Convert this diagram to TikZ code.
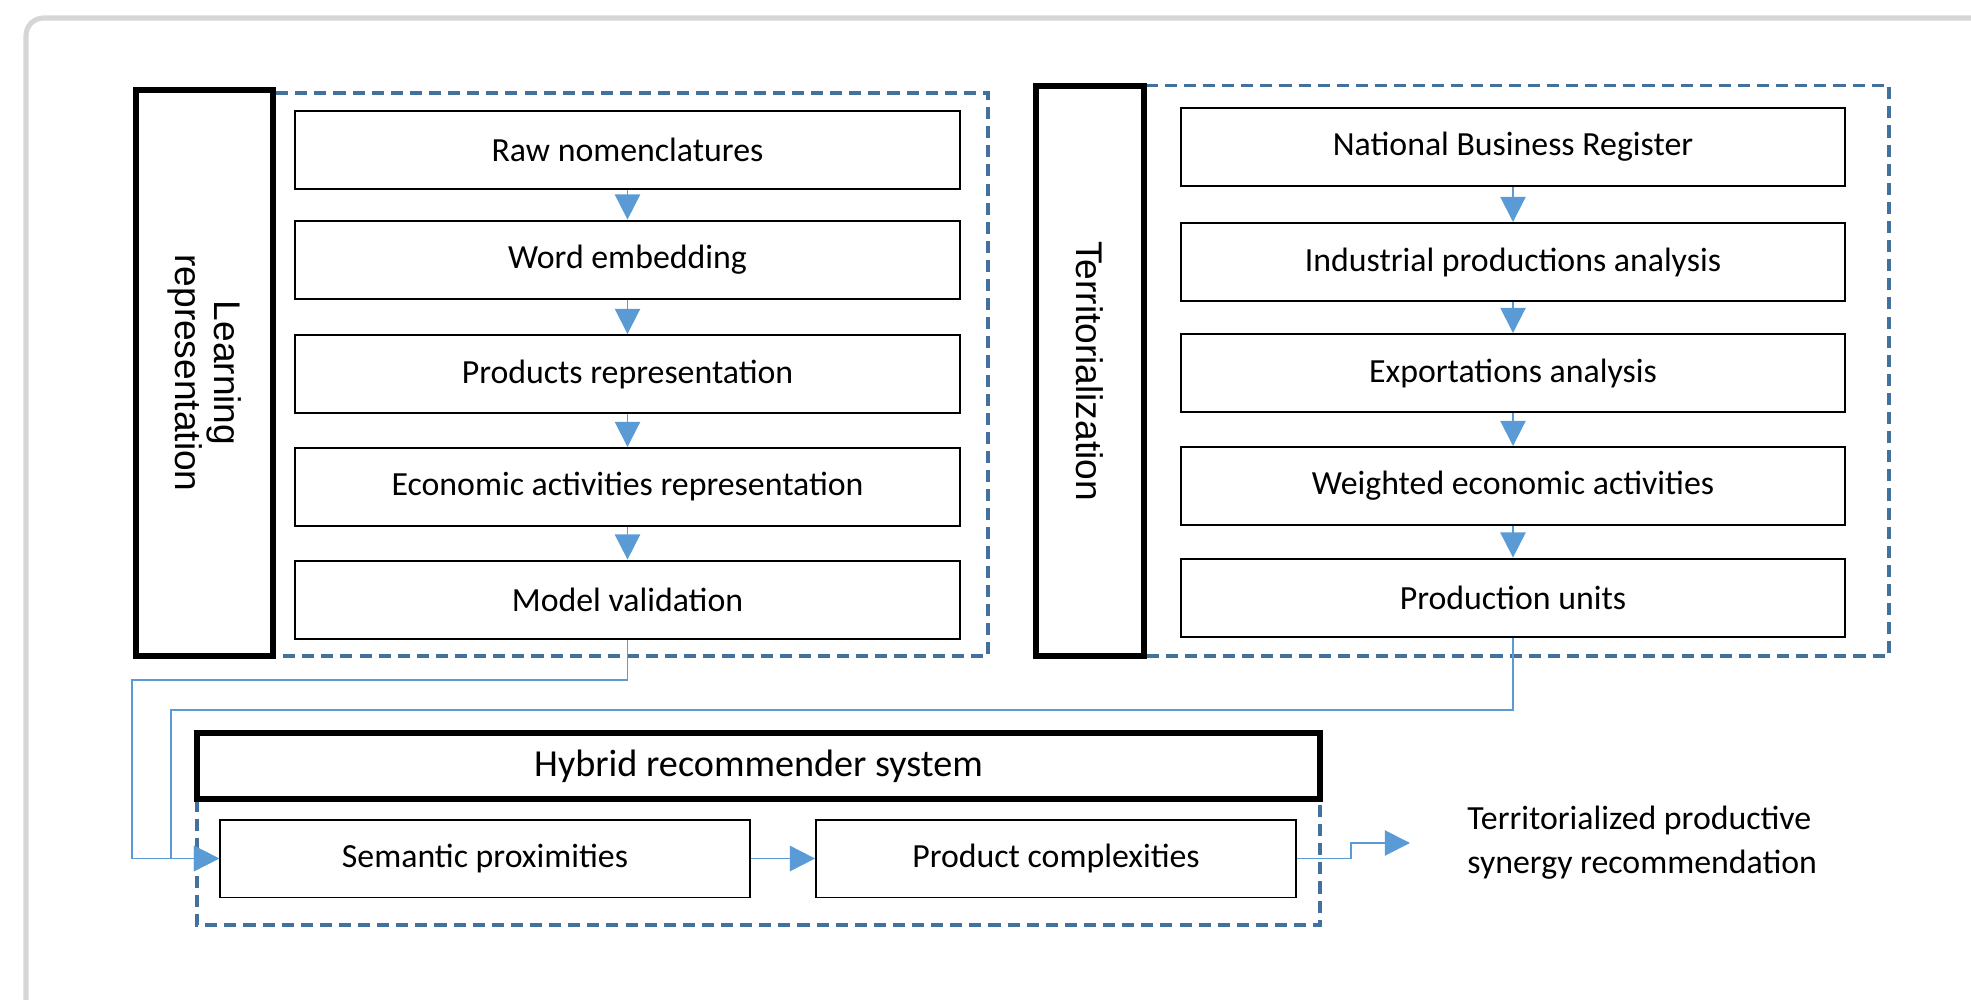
\documentclass[tikz,border=0pt]{standalone}
\usepackage{fontspec}
\setmainfont{Carlito}
\newfontfamily\sidefont{Liberation Sans}
\usepackage{tikz}
\usetikzlibrary{arrows.meta, calc, positioning}
\definecolor{dashblue}{HTML}{41719C}
\definecolor{flowblue}{HTML}{5B9BD5}
\definecolor{framegray}{HTML}{D6D6D6}

\begin{document}
\begin{tikzpicture}[x=0.016cm, y=-0.016cm,
    stepbox/.style={draw, line width=0.9pt, minimum height=1.248cm, inner sep=0pt, font=\fontsize{15.4}{19}\selectfont},
    sidebox/.style={draw, line width=2.6pt, inner sep=0pt, font=\sidefont\fontsize{16.9}{17.6}\selectfont},
    dashbox/.style={draw=dashblue, line width=1.8pt, dash pattern=on 5.5pt off 3.2pt},
    flow/.style={draw=flowblue, line width=0.9pt, -{Triangle[width=11.5pt,length=11.5pt]}}]
  \useasboundingbox (0,0) rectangle (1971,1000);
  \draw[framegray, line width=2.3pt, rounded corners=8pt] (26,1010) -- (26,18) -- (1990,18);

  % dashed frames
  \draw[dashbox] (273,93) rectangle (988,656);
  \draw[dashbox] (1144,85.5) rectangle (1889,656);
  \draw[dashbox] (197,799.5) rectangle (1320,925);

  % learning representation
  \node[sidebox, rotate=-90, align=center, minimum width=9.05cm, minimum height=2.19cm] (learn) at (204.5,373) {Learning\\representation};
  \node[stepbox, minimum width=10.64cm] (raw) at (627.5,149.6) {Raw nomenclatures};
  \node[stepbox, minimum width=10.64cm] (word) at (627.5,259.6) {Word embedding};
  \node[stepbox, minimum width=10.64cm] (prod) at (627.5,374) {Products representation};
  \node[stepbox, minimum width=10.64cm] (econ) at (627.5,487) {Economic activities representation};
  \node[stepbox, minimum width=10.64cm] (model) at (627.5,599.6) {Model validation};

  % territorialization
  \node[sidebox, rotate=-90, minimum width=9.13cm, minimum height=1.73cm] (terr) at (1090,371) {Territorialization};
  \node[stepbox, minimum width=10.62cm] (nbr) at (1513,147) {National Business Register};
  \node[stepbox, minimum width=10.62cm] (indus) at (1513,262) {Industrial productions analysis};
  \node[stepbox, minimum width=10.62cm] (export) at (1513,373) {Exportations analysis};
  \node[stepbox, minimum width=10.62cm] (weight) at (1513,486) {Weighted economic activities};
  \node[stepbox, minimum width=10.62cm] (units) at (1513,597.6) {Production units};

  % hybrid recommender
  \node[sidebox, font=\fontsize{17.4}{20}\selectfont, minimum width=17.97cm, minimum height=1.064cm] (hybrid) at (758.5,766) {Hybrid recommender system};
  \node[stepbox, minimum width=8.48cm] (sem) at (485,858.5) {Semantic proximities};
  \node[stepbox, minimum width=7.68cm] (cplx) at (1056,858.5) {Product complexities};
  \node[font=\fontsize{15.4}{20}\selectfont, align=left, anchor=west, inner sep=0pt] (out) at (1467,843) {Territorialized productive\\synergy recommendation};
  \coordinate (tip) at (1410,843);

  \foreach \a/\b in {raw/word, word/prod, prod/econ, econ/model, nbr/indus, indus/export, export/weight, weight/units}
    \draw[flow] (\a) -- (\b);

  \draw[flow] (model.south) -- (627.5,680) -| (132,858.5) -- (sem.west);
  \draw[flow] (units.south) -- (1513,710) -| (171,858.5) -- (sem.west);
  \draw[flow] (sem) -- (cplx);
  \draw[flow] (cplx.east) -- (1351,858.5) |- (tip);
\end{tikzpicture}
\end{document}
